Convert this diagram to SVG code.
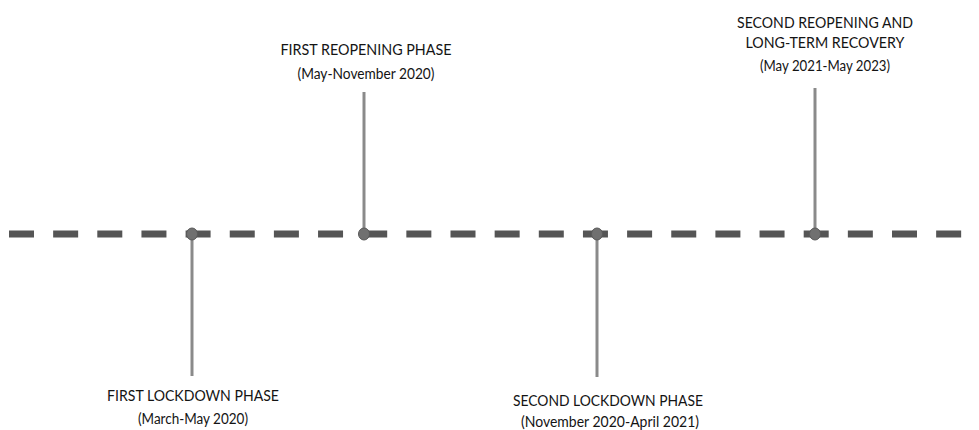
<svg xmlns="http://www.w3.org/2000/svg" width="979" height="430" viewBox="0 0 979 430">
<style>
.t{font-family:Lato,"Liberation Sans",Arial,sans-serif;fill:#141414;text-anchor:middle}
.h{font-size:16px}
.s{font-size:14.5px}
.stem{stroke:#8a8a8a;stroke-width:3}
.dot{fill:#707070;stroke:#5a5a5a;stroke-width:1}
</style>
<rect width="979" height="430" fill="#ffffff"/>
<g id="connectors">
<line x1="9" y1="234" x2="975" y2="234" stroke="#555555" stroke-width="7" stroke-dasharray="25 19.15"/>
<line class="stem" x1="192" y1="234" x2="192" y2="376"/>
<line class="stem" x1="364" y1="234" x2="364" y2="92"/>
<line class="stem" x1="597" y1="234" x2="597" y2="377"/>
<line class="stem" x1="815" y1="234" x2="815" y2="88"/>
</g>
<g id="first-lockdown">
<ellipse class="dot" cx="192" cy="234" rx="5.5" ry="6"/>
<text class="t h" x="193" y="401" textLength="172" lengthAdjust="spacingAndGlyphs">FIRST LOCKDOWN PHASE</text>
<text class="t s" x="193" y="424" textLength="110" lengthAdjust="spacingAndGlyphs">(March-May 2020)</text>
</g>
<g id="first-reopening">
<ellipse class="dot" cx="364" cy="234" rx="5.5" ry="6"/>
<text class="t h" x="366" y="55" textLength="171" lengthAdjust="spacingAndGlyphs">FIRST REOPENING PHASE</text>
<text class="t s" x="366" y="79" textLength="137" lengthAdjust="spacingAndGlyphs">(May-November 2020)</text>
</g>
<g id="second-lockdown">
<ellipse class="dot" cx="597" cy="234" rx="5.5" ry="6"/>
<text class="t h" x="608" y="406" textLength="190" lengthAdjust="spacingAndGlyphs">SECOND LOCKDOWN PHASE</text>
<text class="t s" x="610" y="427" textLength="178" lengthAdjust="spacingAndGlyphs">(November 2020-April 2021)</text>
</g>
<g id="second-reopening">
<ellipse class="dot" cx="815" cy="234" rx="5.5" ry="6"/>
<text class="t h" x="825" y="28" textLength="176" lengthAdjust="spacingAndGlyphs">SECOND REOPENING AND</text>
<text class="t h" x="825" y="48" textLength="159" lengthAdjust="spacingAndGlyphs">LONG-TERM RECOVERY</text>
<text class="t s" x="825" y="71" textLength="130" lengthAdjust="spacingAndGlyphs">(May 2021-May 2023)</text>
</g>
</svg>
